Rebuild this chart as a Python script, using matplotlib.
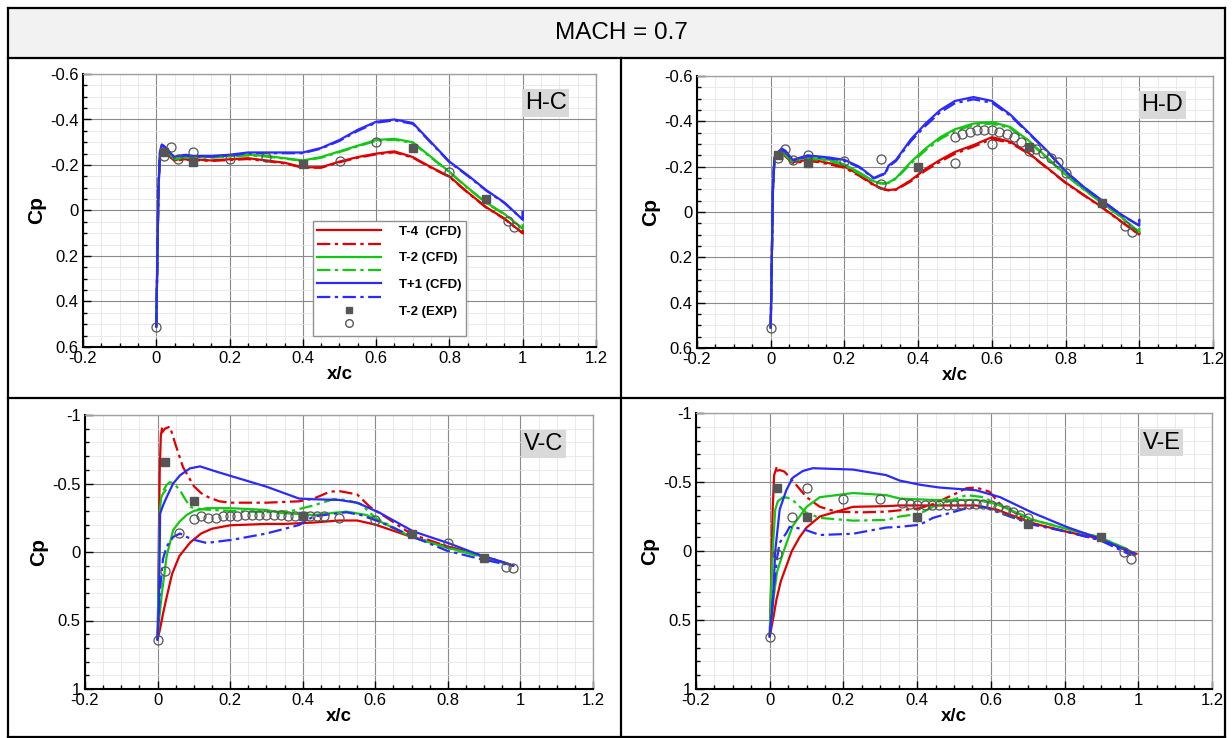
import numpy as np
import matplotlib
matplotlib.use('Agg')
import matplotlib.pyplot as plt
from matplotlib.lines import Line2D
from matplotlib.patches import Rectangle

plt.rcParams['font.family'] = ['Liberation Sans', 'DejaVu Sans']

# ---------------- H-C (top left) ----------------
x_hc = [0.0, 0.003, 0.006, 0.01, 0.015, 0.02, 0.03, 0.04, 0.05, 0.06, 0.08, 0.1, 0.15, 0.2, 0.25,
        0.3, 0.35, 0.4, 0.45, 0.5, 0.55, 0.6, 0.65, 0.7, 0.75, 0.8, 0.85, 0.9, 0.95, 1.0, 1.0]
hc_t4 = [0.51, 0.2, -0.1, -0.235, -0.265, -0.265, -0.25, -0.235, -0.22, -0.225, -0.225, -0.225, -0.22, -0.225, -0.23,
         -0.22, -0.21, -0.19, -0.19, -0.215, -0.235, -0.25, -0.26, -0.235, -0.19, -0.15, -0.08, -0.015, 0.035, 0.10, 0.09]
hc_t4_dd = [0.51, 0.2, -0.1, -0.23, -0.26, -0.262, -0.247, -0.232, -0.218, -0.222, -0.222, -0.222, -0.218, -0.222, -0.226,
            -0.217, -0.207, -0.188, -0.188, -0.212, -0.232, -0.247, -0.256, -0.232, -0.188, -0.147, -0.078, -0.013, 0.037, 0.10, 0.09]
hc_t2 = [0.51, 0.2, -0.1, -0.24, -0.27, -0.27, -0.26, -0.245, -0.225, -0.23, -0.235, -0.235, -0.235, -0.24, -0.245,
         -0.24, -0.23, -0.22, -0.235, -0.26, -0.285, -0.31, -0.315, -0.30, -0.235, -0.17, -0.10, -0.035, 0.015, 0.08, 0.065]
hc_t2_dd = [0.51, 0.2, -0.1, -0.238, -0.266, -0.267, -0.257, -0.242, -0.223, -0.228, -0.232, -0.232, -0.232, -0.237, -0.242,
            -0.237, -0.228, -0.218, -0.232, -0.257, -0.282, -0.306, -0.311, -0.297, -0.232, -0.168, -0.098, -0.033, 0.017, 0.08, 0.065]
hc_t1 = [0.51, 0.2, -0.1, -0.26, -0.29, -0.285, -0.27, -0.25, -0.235, -0.24, -0.245, -0.24, -0.24, -0.245, -0.255,
         -0.255, -0.255, -0.255, -0.275, -0.31, -0.355, -0.39, -0.40, -0.385, -0.30, -0.215, -0.155, -0.09, -0.035, 0.04, 0.005]
hc_t1_dd = [0.51, 0.2, -0.1, -0.257, -0.286, -0.282, -0.267, -0.247, -0.233, -0.237, -0.242, -0.237, -0.237, -0.242, -0.252,
            -0.252, -0.252, -0.252, -0.272, -0.306, -0.35, -0.386, -0.396, -0.381, -0.297, -0.212, -0.152, -0.088, -0.033, 0.04, 0.005]
hc_sq_x = [0.02, 0.1, 0.4, 0.7, 0.9]
hc_sq_y = [-0.257, -0.213, -0.205, -0.275, -0.05]
hc_ci_x = [0.0, 0.02, 0.04, 0.06, 0.1, 0.2, 0.3, 0.5, 0.6, 0.8, 0.96, 0.975]
hc_ci_y = [0.51, -0.24, -0.28, -0.225, -0.255, -0.225, -0.235, -0.218, -0.30, -0.17, 0.046, 0.072]

# ---------------- H-D (top right) ----------------
x_hd = [0.0, 0.003, 0.006, 0.01, 0.02, 0.03, 0.04, 0.06, 0.08, 0.1, 0.13, 0.16, 0.2, 0.24, 0.28, 0.3, 0.31,
        0.32, 0.34, 0.38, 0.42, 0.46, 0.5, 0.55, 0.6, 0.65, 0.7, 0.75, 0.8, 0.85, 0.9, 0.95, 1.0, 1.0]
hd_t4 = [0.51, 0.2, -0.1, -0.23, -0.25, -0.26, -0.25, -0.22, -0.225, -0.23, -0.225, -0.215, -0.2, -0.165, -0.12, -0.105, -0.1,
         -0.097, -0.1, -0.14, -0.19, -0.23, -0.265, -0.295, -0.33, -0.31, -0.26, -0.195, -0.13, -0.075, -0.02, 0.04, 0.10, 0.09]
hd_t4_dd = [0.51, 0.2, -0.1, -0.225, -0.245, -0.255, -0.245, -0.215, -0.22, -0.225, -0.22, -0.21, -0.195, -0.16, -0.117, -0.103, -0.098,
            -0.095, -0.098, -0.135, -0.183, -0.222, -0.257, -0.288, -0.322, -0.305, -0.257, -0.193, -0.128, -0.073, -0.018, 0.042, 0.10, 0.09]
hd_t2 = [0.51, 0.2, -0.1, -0.23, -0.255, -0.265, -0.255, -0.225, -0.235, -0.24, -0.235, -0.23, -0.21, -0.175, -0.135, -0.128, -0.127,
         -0.13, -0.15, -0.22, -0.28, -0.33, -0.365, -0.39, -0.397, -0.375, -0.315, -0.24, -0.165, -0.10, -0.04, 0.02, 0.09, 0.075]
hd_t2_dd = [0.51, 0.2, -0.1, -0.226, -0.25, -0.26, -0.25, -0.22, -0.23, -0.235, -0.23, -0.225, -0.205, -0.17, -0.132, -0.125, -0.125,
            -0.128, -0.147, -0.213, -0.272, -0.322, -0.357, -0.384, -0.39, -0.37, -0.31, -0.237, -0.163, -0.098, -0.038, 0.022, 0.09, 0.075]
hd_t1 = [0.51, 0.2, -0.1, -0.24, -0.265, -0.28, -0.27, -0.23, -0.24, -0.25, -0.245, -0.24, -0.23, -0.2, -0.15, -0.165, -0.17,
         -0.205, -0.23, -0.32, -0.39, -0.45, -0.49, -0.507, -0.49, -0.43, -0.35, -0.27, -0.18, -0.11, -0.05, 0.01, 0.06, 0.035]
hd_t1_dd = [0.51, 0.2, -0.1, -0.236, -0.26, -0.275, -0.265, -0.226, -0.236, -0.246, -0.241, -0.236, -0.226, -0.197, -0.148, -0.162, -0.167,
            -0.2, -0.225, -0.312, -0.38, -0.44, -0.48, -0.497, -0.482, -0.425, -0.346, -0.267, -0.178, -0.108, -0.048, 0.012, 0.06, 0.035]
hd_sq_x = [0.02, 0.1, 0.4, 0.7, 0.9]
hd_sq_y = [-0.25, -0.215, -0.2, -0.287, -0.04]
hd_ci_x = [0.0, 0.02, 0.04, 0.06, 0.1, 0.2, 0.3, 0.3, 0.5, 0.5, 0.52, 0.54, 0.56, 0.58, 0.6, 0.6, 0.62, 0.64,
           0.66, 0.68, 0.7, 0.72, 0.74, 0.76, 0.78, 0.8, 0.96, 0.98]
hd_ci_y = [0.51, -0.24, -0.28, -0.23, -0.25, -0.225, -0.235, -0.125, -0.33, -0.215, -0.345, -0.355, -0.36, -0.36, -0.36, -0.30,
           -0.355, -0.345, -0.33, -0.31, -0.27, -0.28, -0.26, -0.24, -0.22, -0.17, 0.06, 0.09]

# ---------------- V-C (bottom left) ----------------
vc_t4_x = [0.98, 0.9, 0.8, 0.7, 0.6, 0.55, 0.5, 0.43, 0.35, 0.3, 0.2, 0.15, 0.12, 0.09, 0.06, 0.04, 0.025,
           0.015, 0.007, 0.0, 0.002, 0.004, 0.006, 0.009, 0.012]
vc_t4_y = [0.1, 0.035, -0.04, -0.11, -0.2, -0.23, -0.23, -0.215, -0.205, -0.205, -0.195, -0.17, -0.135, -0.07, 0.03, 0.16, 0.33,
           0.45, 0.56, 0.64, 0.3, -0.2, -0.6, -0.85, -0.9]
vc_t4dd_x = [0.98, 0.9, 0.8, 0.7, 0.62, 0.585, 0.55, 0.5, 0.475, 0.43, 0.39, 0.3, 0.2, 0.17, 0.14, 0.12, 0.1,
             0.07, 0.05, 0.034, 0.02, 0.012]
vc_t4dd_y = [0.1, 0.03, -0.04, -0.13, -0.27, -0.33, -0.42, -0.445, -0.44, -0.39, -0.37, -0.36, -0.36, -0.37, -0.40, -0.43, -0.48,
             -0.62, -0.78, -0.915, -0.9, -0.87]
vc_t2_x = [0.022, 0.016, 0.01, 0.006, 0.003, 0.0, 0.004, 0.012, 0.025, 0.043, 0.06, 0.08, 0.1, 0.135, 0.2, 0.3, 0.34,
           0.43, 0.52, 0.576, 0.6, 0.7, 0.8, 0.9, 0.98]
vc_t2_y = [-0.45, -0.43, -0.4, -0.3, 0.2, 0.64, 0.5, 0.3, 0.03, -0.16, -0.22, -0.27, -0.30, -0.32, -0.32, -0.307, -0.285,
           -0.27, -0.295, -0.27, -0.24, -0.11, -0.03, 0.034, 0.1]
vc_t2dd_x = [0.016, 0.025, 0.034, 0.045, 0.062, 0.075, 0.09, 0.1, 0.13, 0.2, 0.3, 0.37, 0.43, 0.485, 0.52, 0.56, 0.6,
             0.7, 0.8, 0.9, 0.98]
vc_t2dd_y = [-0.45, -0.49, -0.51, -0.5, -0.45, -0.39, -0.33, -0.32, -0.31, -0.3, -0.29, -0.3, -0.34, -0.386, -0.38, -0.35, -0.25,
             -0.11, -0.03, 0.04, 0.1]
vc_t1_x = [0.0, 0.004, 0.007, 0.015, 0.025, 0.043, 0.062, 0.089, 0.117, 0.163, 0.208, 0.3, 0.39, 0.43, 0.5, 0.55,
           0.613, 0.705, 0.8, 0.888, 0.96, 0.98]
vc_t1_y = [0.64, 0.35, -0.28, -0.34, -0.40, -0.50, -0.56, -0.61, -0.625, -0.586, -0.55, -0.477, -0.39, -0.385, -0.38, -0.36,
           -0.285, -0.15, -0.066, 0.022, 0.08, 0.1]
vc_t1dd_x = [0.0, 0.006, 0.015, 0.025, 0.043, 0.062, 0.08, 0.099, 0.135, 0.208, 0.3, 0.39, 0.43, 0.52, 0.56, 0.613,
             0.705, 0.797, 0.888, 0.96]
vc_t1dd_y = [0.64, 0.3, 0.05, -0.04, -0.11, -0.135, -0.11, -0.09, -0.066, -0.09, -0.135, -0.197, -0.26, -0.29, -0.27, -0.22,
             -0.11, -0.01, 0.05, 0.09]
vc_sq_x = [0.02, 0.1, 0.4, 0.7, 0.9]
vc_sq_y = [-0.66, -0.37, -0.26, -0.135, 0.045]
vc_ci_x = [0.0, 0.02, 0.06, 0.1, 0.12, 0.14, 0.16, 0.18, 0.2, 0.22, 0.24, 0.26, 0.28, 0.3, 0.32, 0.34, 0.36, 0.38,
           0.4, 0.42, 0.44, 0.46, 0.5, 0.6, 0.8, 0.96, 0.98]
vc_ci_y = [0.64, 0.14, -0.14, -0.24, -0.26, -0.25, -0.25, -0.26, -0.26, -0.26, -0.27, -0.27, -0.27, -0.27, -0.27, -0.27,
           -0.26, -0.26, -0.26, -0.26, -0.26, -0.26, -0.25, -0.23, -0.066, 0.11, 0.12]

# ---------------- V-E (bottom right) ----------------
ve_t4_x = [0.995, 0.968, 0.895, 0.805, 0.715, 0.616, 0.56, 0.443, 0.353, 0.316, 0.226, 0.136, 0.1, 0.081, 0.06,
           0.045, 0.03, 0.018, 0.01, 0.0, 0.004, 0.008, 0.012, 0.018]
ve_t4_y = [0.02, -0.007, -0.09, -0.14, -0.2, -0.30, -0.33, -0.33, -0.33, -0.325, -0.32, -0.25, -0.17, -0.10, 0.0,
           0.11, 0.22, 0.355, 0.48, 0.62, 0.2, -0.3, -0.55, -0.60]
ve_t4dd_x = [0.018, 0.027, 0.04, 0.062, 0.1, 0.136, 0.18, 0.25, 0.316, 0.407, 0.443, 0.5, 0.534, 0.56, 0.596, 0.625,
             0.715, 0.805, 0.895, 0.995]
ve_t4dd_y = [-0.58, -0.587, -0.575, -0.51, -0.39, -0.32, -0.285, -0.28, -0.285, -0.31, -0.34, -0.41, -0.455, -0.46, -0.43, -0.34,
             -0.2, -0.14, -0.08, 0.03]
ve_t2_x = [0.022, 0.015, 0.008, 0.003, 0.0, 0.01, 0.02, 0.036, 0.062, 0.1, 0.136, 0.226, 0.316, 0.353, 0.443, 0.56,
           0.616, 0.715, 0.805, 0.895, 0.968, 0.99]
ve_t2_y = [-0.36, -0.3, 0.0, 0.35, 0.62, 0.35, 0.15, 0.015, -0.18, -0.32, -0.39, -0.42, -0.405, -0.38, -0.37, -0.37,
           -0.34, -0.225, -0.16, -0.10, -0.015, 0.02]
ve_t2dd_x = [0.022, 0.036, 0.05, 0.062, 0.1, 0.136, 0.226, 0.316, 0.353, 0.407, 0.443, 0.534, 0.58, 0.616, 0.715,
             0.895, 0.98]
ve_t2dd_y = [-0.36, -0.39, -0.385, -0.37, -0.275, -0.24, -0.22, -0.225, -0.25, -0.27, -0.32, -0.405, -0.39, -0.34, -0.225,
             -0.10, 0.0]
ve_t1_x = [0.0, 0.009, 0.015, 0.027, 0.045, 0.062, 0.09, 0.117, 0.226, 0.316, 0.353, 0.408, 0.46, 0.56, 0.625, 0.715,
           0.805, 0.895, 0.96, 0.99]
ve_t1_y = [0.62, 0.35, 0.0, -0.30, -0.44, -0.53, -0.58, -0.60, -0.59, -0.55, -0.51, -0.48, -0.46, -0.44, -0.39, -0.275,
           -0.175, -0.09, -0.015, 0.02]
ve_t1dd_x = [0.0, 0.01, 0.02, 0.027, 0.045, 0.054, 0.07, 0.1, 0.136, 0.226, 0.316, 0.353, 0.407, 0.443, 0.534, 0.58,
             0.625, 0.715, 0.805, 0.895, 0.98]
ve_t1dd_y = [0.62, 0.3, 0.05, -0.06, -0.13, -0.175, -0.17, -0.15, -0.116, -0.125, -0.17, -0.175, -0.19, -0.24, -0.31, -0.32,
             -0.275, -0.19, -0.14, -0.08, 0.03]
ve_sq_x = [0.02, 0.1, 0.4, 0.7, 0.9]
ve_sq_y = [-0.46, -0.25, -0.25, -0.195, -0.1]
ve_ci_x = [0.0, 0.02, 0.06, 0.1, 0.2, 0.3, 0.36, 0.38, 0.40, 0.42, 0.44, 0.46, 0.48, 0.50, 0.52, 0.54, 0.56, 0.58,
           0.60, 0.62, 0.64, 0.66, 0.68, 0.70, 0.96, 0.98]
ve_ci_y = [0.62, 0.02, -0.25, -0.46, -0.375, -0.375, -0.35, -0.34, -0.33, -0.33, -0.33, -0.33, -0.33, -0.33, -0.34, -0.34,
           -0.34, -0.34, -0.33, -0.32, -0.30, -0.28, -0.26, -0.24, 0.005, 0.06]

legend_labels = ['T-4  (CFD)', '', 'T-2 (CFD)', '', 'T+1 (CFD)', '', 'T-2 (EXP)', '']

RED = '#e00000'
GREEN = '#12c812'
BLUE = '#2a2aff'
DD = (0, (6, 2, 1.5, 2))
W, H = 1232, 738

fig = plt.figure(figsize=(W / 100, H / 100), dpi=100)


def add_ax(l, r, t, b):
    return fig.add_axes([l / W, 1 - b / H, (r - l) / W, (b - t) / H])


def style(ax, ylim, ymaj, ymin):
    ax.set_xlim(-0.2, 1.2)
    ax.set_ylim(ylim[1], ylim[0])
    ax.set_xticks(np.arange(-0.2, 1.21, 0.2))
    ax.set_xticks(np.arange(-0.2, 1.201, 0.05), minor=True)
    ax.set_yticks(ymaj)
    ax.set_yticks(ymin, minor=True)
    ax.set_xticklabels(['%g' % round(v, 2) for v in np.arange(-0.2, 1.21, 0.2)])
    ax.set_yticklabels(['%g' % v for v in ymaj])
    ax.grid(which='major', color='#8a8a8a', lw=0.8)
    ax.grid(which='minor', color='#e6e6e6', lw=0.6)
    ax.set_axisbelow(True)
    for s in ['top', 'right']:
        ax.spines[s].set_color('#a0a0a0')
        ax.spines[s].set_linewidth(1)
    for s in ['left', 'bottom']:
        ax.spines[s].set_color('black')
        ax.spines[s].set_linewidth(1.5)
    ax.tick_params(which='both', direction='in', top=False, right=False, labelsize=12, width=1)
    ax.tick_params(which='major', length=6, pad=3)
    ax.tick_params(which='minor', length=3)
    ax.set_xlabel('x/c', fontsize=13.5, fontweight='bold', labelpad=0)
    ax.set_ylabel('Cp', fontsize=15, fontweight='bold', labelpad=3)


def draw(ax, series, sq, ci, tag):
    for (x, y), c, ls in series:
        ax.plot(x, y, color=c, ls=ls, lw=1.6)
    ax.plot(sq[0], sq[1], 's', color='#555555', ms=6, ls='none')
    ax.plot(ci[0], ci[1], 'o', mfc='none', mec='#555555', mew=0.9, ms=6.5, ls='none')
    ax.text(0.902, 0.893, tag, transform=ax.transAxes, fontsize=17, ha='center', va='center',
            bbox=dict(boxstyle='square,pad=0.12', fc='#d9d9d9', ec='none'))


top_maj = [-0.6, -0.4, -0.2, 0, 0.2, 0.4, 0.6]
top_min = np.arange(-0.6, 0.601, 0.05)
bot_maj = [-1, -0.5, 0, 0.5, 1]
bot_min = np.arange(-1, 1.001, 0.1)

ax1 = add_ax(83, 596, 74, 347)
style(ax1, (-0.6, 0.6), top_maj, top_min)
draw(ax1, [((x_hc, hc_t4), RED, '-'), ((x_hc, hc_t4_dd), RED, DD),
           ((x_hc, hc_t2), GREEN, '-'), ((x_hc, hc_t2_dd), GREEN, DD),
           ((x_hc, hc_t1), BLUE, '-'), ((x_hc, hc_t1_dd), BLUE, DD)],
     (hc_sq_x, hc_sq_y), (hc_ci_x, hc_ci_y), 'H-C')

ax2 = add_ax(697, 1213, 76, 348)
style(ax2, (-0.6, 0.6), top_maj, top_min)
draw(ax2, [((x_hd, hd_t4), RED, '-'), ((x_hd, hd_t4_dd), RED, DD),
           ((x_hd, hd_t2), GREEN, '-'), ((x_hd, hd_t2_dd), GREEN, DD),
           ((x_hd, hd_t1), BLUE, '-'), ((x_hd, hd_t1_dd), BLUE, DD)],
     (hd_sq_x, hd_sq_y), (hd_ci_x, hd_ci_y), 'H-D')

ax3 = add_ax(85, 593, 415, 689)
style(ax3, (-1, 1), bot_maj, bot_min)
draw(ax3, [((vc_t4_x, vc_t4_y), RED, '-'), ((vc_t4dd_x, vc_t4dd_y), RED, DD),
           ((vc_t2_x, vc_t2_y), GREEN, '-'), ((vc_t2dd_x, vc_t2dd_y), GREEN, DD),
           ((vc_t1_x, vc_t1_y), BLUE, '-'), ((vc_t1dd_x, vc_t1dd_y), BLUE, DD)],
     (vc_sq_x, vc_sq_y), (vc_ci_x, vc_ci_y), 'V-C')

ax4 = add_ax(696, 1212, 413, 689)
style(ax4, (-1, 1), bot_maj, bot_min)
draw(ax4, [((ve_t4_x, ve_t4_y), RED, '-'), ((ve_t4dd_x, ve_t4dd_y), RED, DD),
           ((ve_t2_x, ve_t2_y), GREEN, '-'), ((ve_t2dd_x, ve_t2dd_y), GREEN, DD),
           ((ve_t1_x, ve_t1_y), BLUE, '-'), ((ve_t1dd_x, ve_t1dd_y), BLUE, DD)],
     (ve_sq_x, ve_sq_y), (ve_ci_x, ve_ci_y), 'V-E')

# legend in H-C panel
handles = [Line2D([], [], color=RED, lw=1.6), Line2D([], [], color=RED, lw=1.6, ls=DD),
           Line2D([], [], color=GREEN, lw=1.6), Line2D([], [], color=GREEN, lw=1.6, ls=DD),
           Line2D([], [], color=BLUE, lw=1.6), Line2D([], [], color=BLUE, lw=1.6, ls=DD),
           Line2D([], [], marker='s', color='#555555', ms=5, ls='none'),
           Line2D([], [], marker='o', mfc='none', mec='#555555', ms=5.5, ls='none')]
leg = ax1.legend(handles, legend_labels, loc='upper left', bbox_to_anchor=(0.448, 0.4615),
                 prop={'weight': 'bold', 'size': 9.5}, frameon=True, fancybox=False,
                 edgecolor='#909090', framealpha=1, labelspacing=0.08, handlelength=4.8,
                 handletextpad=1.4, borderpad=0.35, borderaxespad=0)
leg.get_frame().set_linewidth(1)

# table frame and header
fig.patches.append(Rectangle((8 / W, 1 - 58 / H), (1225 - 8) / W, 50 / H, transform=fig.transFigure,
                             fc='#f2f2f2', ec='none', zorder=0))
frame_lines = [((8, 1225), (8, 8)), ((8, 1225), (58, 58)), ((8, 1225), (398, 398)), ((8, 1225), (737, 737)),
               ((8, 8), (8, 737)), ((1225, 1225), (8, 737)), ((621, 621), (58, 737))]
for xs, ys in frame_lines:
    fig.add_artist(Line2D([v / W for v in xs], [1 - v / H for v in ys], color='black', lw=1.6,
                          transform=fig.transFigure))
fig.text(621 / W, 1 - 33 / H, 'MACH = 0.7', ha='center', va='center', fontsize=17.5,
         family=['Liberation Sans Narrow', 'Liberation Sans'])

fig.savefig('out.png', dpi=100)
